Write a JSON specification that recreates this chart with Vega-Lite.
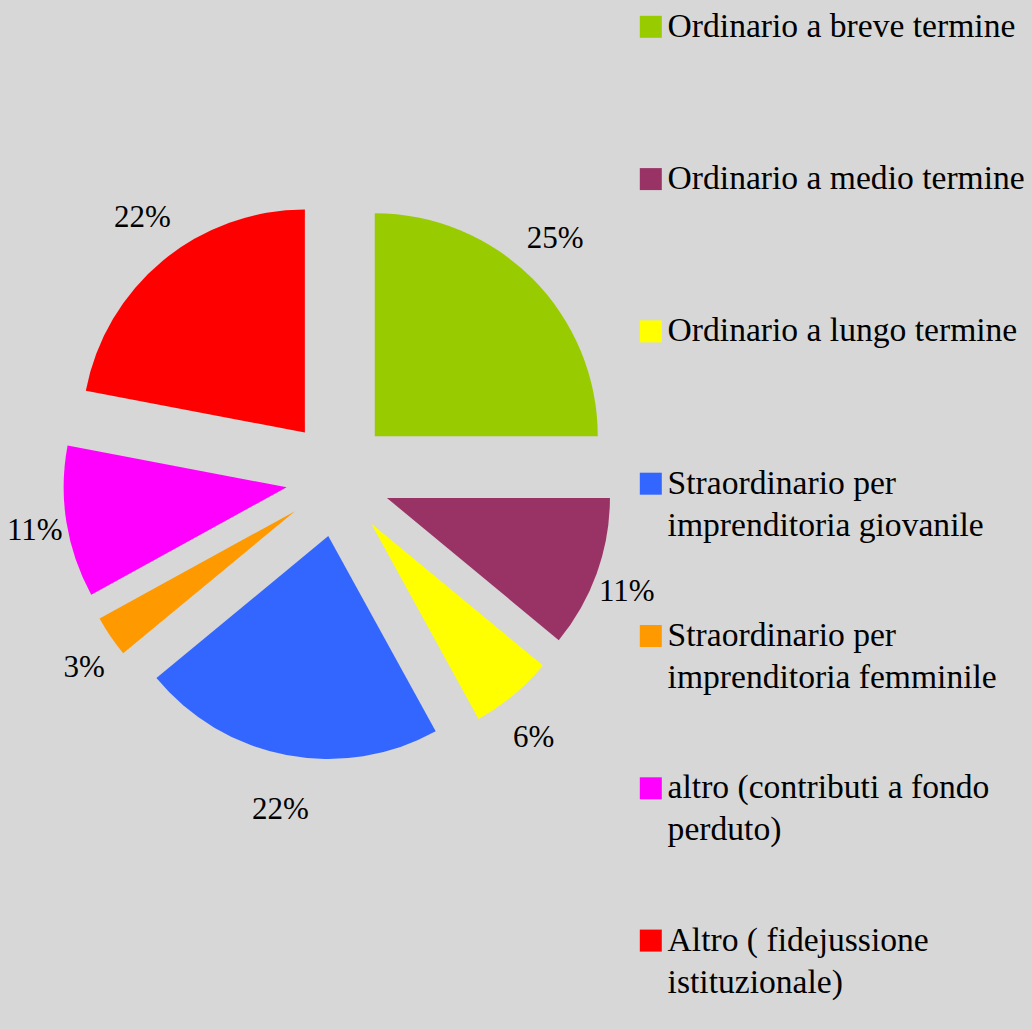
{
  "$schema": "https://vega.github.io/schema/vega-lite/v6.json",
  "width": 676,
  "height": 956,
  "autosize": "none",
  "padding": {"left": 0, "top": 0, "right": 356, "bottom": 74},
  "background": "#d7d7d7",
  "config": {"view": {"stroke": null}},
  "data": {
    "values": [
      {"idx": 1, "categoria": "Ordinario a breve termine", "share": 0.25},
      {"idx": 2, "categoria": "Ordinario a medio termine", "share": 0.11},
      {"idx": 3, "categoria": "Ordinario a lungo termine", "share": 0.06},
      {"idx": 4, "categoria": "Straordinario per imprenditoria giovanile", "share": 0.22},
      {"idx": 5, "categoria": "Straordinario per imprenditoria femminile", "share": 0.03},
      {"idx": 6, "categoria": "altro (contributi a fondo perduto)", "share": 0.11},
      {"idx": 7, "categoria": "Altro ( fidejussione istituzionale)", "share": 0.22}
    ]
  },
  "transform": [
    {"window": [{"op": "sum", "field": "share", "as": "cum"}], "sort": [{"field": "idx"}], "frame": [null, 0]}
  ],
  "encoding": {
    "theta": {"field": "share", "type": "quantitative", "stack": true},
    "order": {"field": "idx", "type": "quantitative"}
  },
  "layer": [
    {
      "mark": {
        "type": "arc",
        "outerRadius": 223,
        "xOffset": {"expr": "52*sin(2*PI*(datum.cum - datum.share/2))"},
        "yOffset": {"expr": "-59*cos(2*PI*(datum.cum - datum.share/2))"}
      },
      "encoding": {
        "color": {
          "field": "categoria",
          "type": "nominal",
          "scale": {
            "domain": [
              "Ordinario a breve termine",
              "Ordinario a medio termine",
              "Ordinario a lungo termine",
              "Straordinario per imprenditoria giovanile",
              "Straordinario per imprenditoria femminile",
              "altro (contributi a fondo perduto)",
              "Altro ( fidejussione istituzionale)"
            ],
            "range": ["#99CC00", "#993366", "#FFFF00", "#3366FF", "#FF9900", "#FF00FF", "#FF0000"]
          },
          "legend": {
            "orient": "none",
            "legendX": 634,
            "legendY": 10,
            "title": null,
            "symbolType": "square",
            "symbolSize": 484,
            "symbolStrokeWidth": 0,
            "symbolOpacity": 1,
            "labelFont": "Liberation Serif",
            "labelFontSize": 33.6,
            "labelColor": "#000000",
            "labelLimit": 0,
            "labelOffset": 0,
            "labelBaseline": "top",
            "gridAlign": "all",
            "rowPadding": 75.3,
            "labelExpr": "datum.label == 'Straordinario per imprenditoria giovanile' ? ['Straordinario per', 'imprenditoria giovanile'] : datum.label == 'Straordinario per imprenditoria femminile' ? ['Straordinario per', 'imprenditoria femminile'] : datum.label == 'altro (contributi a fondo perduto)' ? ['altro (contributi a fondo', 'perduto)'] : datum.label == 'Altro ( fidejussione istituzionale)' ? ['Altro ( fidejussione', 'istituzionale)'] : datum.label",
            "encode": {
              "labels": {"update": {"lineHeight": {"value": 42}, "dy": {"value": -17}}}
            }
          }
        }
      }
    },
    {
      "mark": {
        "type": "text",
        "radius": 252,
        "font": "Liberation Serif",
        "fontSize": 31,
        "color": "#000000",
        "xOffset": {"expr": "55*sin(2*PI*(datum.cum - datum.share/2))"},
        "yOffset": {"expr": "-86*cos(2*PI*(datum.cum - datum.share/2))"}
      },
      "encoding": {
        "text": {"field": "share", "type": "quantitative", "format": ".0%"}
      }
    }
  ]
}
